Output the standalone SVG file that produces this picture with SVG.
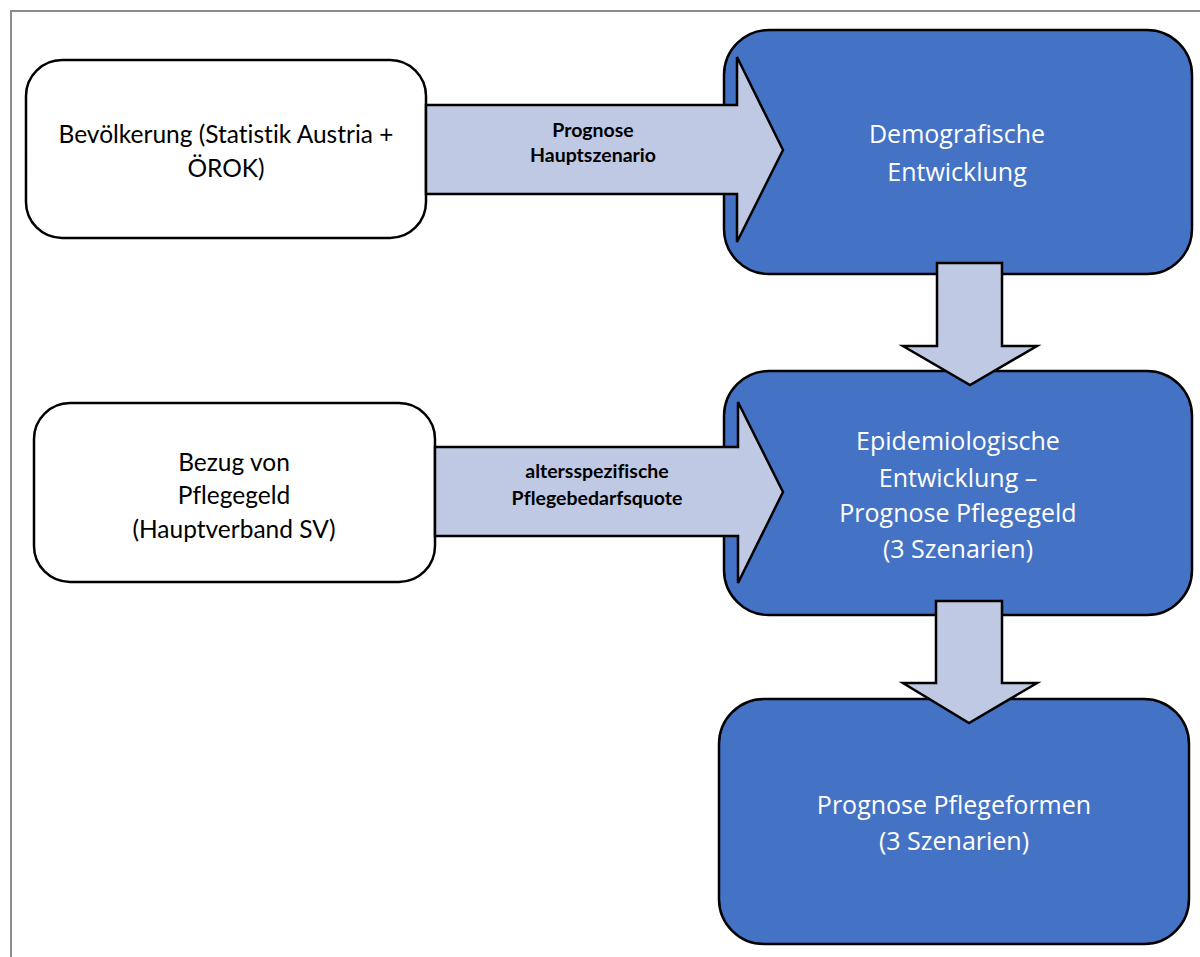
<svg xmlns="http://www.w3.org/2000/svg" width="1200" height="957" viewBox="0 0 1200 957">
<style>
.white{fill:#ffffff;stroke:#000;stroke-width:2.5}
.blue{fill:#4472C4;stroke:#000;stroke-width:2.5}
.arrow{fill:#BFC9E3;stroke:#000;stroke-width:2.5;stroke-linejoin:miter}
text{font-variant-ligatures:none}
.t{font-family:Lato,"Open Sans","Liberation Sans",sans-serif;font-size:24.5px;text-anchor:middle;fill:#000}
.tw{font-family:"Open Sans",Lato,"Liberation Sans",sans-serif;font-size:25px;text-anchor:middle;fill:#ffffff}
.lb{font-family:Lato,"Open Sans","Liberation Sans",sans-serif;font-size:19.5px;font-weight:bold;text-anchor:middle;fill:#000}
</style>
<rect x="0" y="0" width="1200" height="957" fill="#ffffff"/>
<rect x="11" y="11" width="1200" height="1000" fill="none" stroke="#8c8c8c" stroke-width="2"/>
<g id="bevoelkerung">
<rect class="white" x="26" y="60" width="400" height="178" rx="36"/>
<text class="t" x="226" y="143">Bevölkerung (Statistik Austria +</text>
<text class="t" x="226" y="177">ÖROK)</text>
</g>
<g id="pflegegeld">
<rect class="white" x="34" y="403" width="401" height="179" rx="36"/>
<text class="t" x="234" y="471">Bezug von</text>
<text class="t" x="234" y="504">Pflegegeld</text>
<text class="t" x="234" y="538">(Hauptverband SV)</text>
</g>
<g id="demografie">
<rect class="blue" x="724" y="30" width="468" height="244" rx="45"/>
<text class="tw" x="957" y="143">Demografische</text>
<text class="tw" x="957" y="181">Entwicklung</text>
</g>
<g id="epidemiologie">
<rect class="blue" x="724" y="371" width="468" height="244" rx="45"/>
<text class="tw" x="958" y="450">Epidemiologische</text>
<text class="tw" x="958" y="487">Entwicklung –</text>
<text class="tw" x="958" y="522">Prognose Pflegegeld</text>
<text class="tw" x="958" y="558">(3 Szenarien)</text>
</g>
<g id="pflegeformen">
<rect class="blue" x="719" y="699" width="470" height="245" rx="45"/>
<text class="tw" x="954" y="814">Prognose Pflegeformen</text>
<text class="tw" x="954" y="850">(3 Szenarien)</text>
</g>
<g id="connectors">
<polygon class="arrow" points="426,105 737,105 737,57 783,150 737,242 737,194 426,194"/>
<text class="lb" x="593" y="137">Prognose</text>
<text class="lb" x="593" y="162">Hauptszenario</text>
<polygon class="arrow" points="435,447 738,447 738,402 783,492 738,583 738,536 435,536"/>
<text class="lb" x="597" y="478">altersspezifische</text>
<text class="lb" x="597" y="505">Pflegebedarfsquote</text>
<polygon class="arrow" points="937,263 1002,263 1002,346 1037,346 970,385 903,346 937,346"/>
<polygon class="arrow" points="936,601 1002,601 1002,683 1037,683 969,723 903,683 936,683"/>
</g>
</svg>
